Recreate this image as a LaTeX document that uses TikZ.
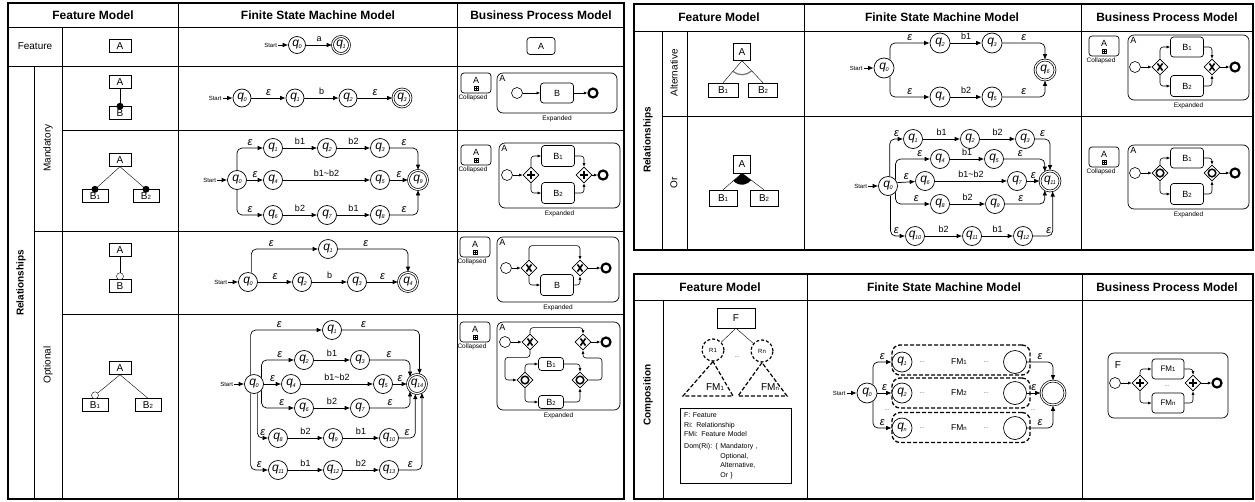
\documentclass[tikz,border=0pt]{standalone}
\usepackage{fontspec}
\setmainfont{Liberation Sans}
\usetikzlibrary{arrows.meta,shapes.geometric,positioning}

\newcommand{\qq}[1]{\textit{q}\kern-0.4pt\raisebox{-1.8pt}{\fontsize{5.5}{6}\selectfont\itshape #1}}
\newcommand{\nn}[1]{{\fontsize{6}{6}\selectfont #1}}
\newcommand{\ep}{ε}
\newcommand{\dt}{{\fontsize{5}{5}\selectfont ...}}

\tikzset{
  tabline/.style={line width=0.9pt},
  tabframe/.style={line width=1.1pt},
  hd/.style={font=\fontsize{12}{14}\selectfont\bfseries},
  sidel/.style={rotate=90, font=\fontsize{10}{12}\selectfont},
  sideb/.style={rotate=90, font=\fontsize{10}{12}\selectfont\bfseries},
  feat/.style={draw, minimum width=22pt, minimum height=13pt, inner sep=0pt, font=\fontsize{10}{11}\selectfont},
  mdot/.style={circle, fill, minimum size=7pt, inner sep=0pt},
  odot/.style={circle, draw, fill=white, minimum size=7pt, inner sep=0pt},
  qst/.style={draw, circle, fill=white, minimum size=19pt, inner sep=0pt, line width=0.7pt, font=\fontsize{12}{12}\selectfont},
  qfin/.style={qst, double, double distance=1.2pt},
  tr/.style={-{Latex[length=5.5pt,width=4.5pt]}, line width=0.7pt, rounded corners=5pt},
  sym/.style={font=\fontsize{9}{9}\selectfont, above=-0.5pt},
  epl/.style={font=\fontsize{11}{11}\selectfont\itshape, above=-1pt},
  startl/.style={font=\fontsize{6}{6}\selectfont, inner sep=1pt},
  task/.style={draw, rounded corners=3pt, minimum width=33pt, minimum height=20pt, inner sep=0pt, line width=0.7pt, font=\fontsize{9}{10}\selectfont},
  subp/.style={draw, rounded corners=6pt, inner sep=0pt, line width=0.7pt},
  lbl/.style={anchor=north west, inner sep=2.5pt, font=\fontsize{9}{10}\selectfont},
  note/.style={font=\fontsize{6.5}{7}\selectfont, inner sep=1pt},
  gw/.style={draw, diamond, fill=white, minimum size=16pt, inner sep=0pt, line width=0.7pt},
  gwand/.style={gw, path picture={\draw[line width=1.8pt] (path picture bounding box.center) +(-4pt,0) -- +(4pt,0) +(0,-4pt) -- +(0,4pt);}},
  gwxor/.style={gw, path picture={\draw[line width=1.6pt] (path picture bounding box.center) +(-2.5pt,-3.5pt) -- +(2.5pt,3.5pt) +(-2.5pt,3.5pt) -- +(2.5pt,-3.5pt);}},
  gwor/.style={gw, path picture={\draw[line width=1.5pt] (path picture bounding box.center) circle (3.8pt);}},
  sev/.style={draw, circle, fill=white, minimum size=11pt, inner sep=0pt, line width=0.6pt},
  eev/.style={draw, circle, minimum size=9pt, inner sep=0pt, line width=2.2pt},
  flow/.style={-{Latex[length=3.5pt,width=3pt]}, line width=0.6pt, rounded corners=3pt},
  plusmark/.style={draw, minimum size=4pt, inner sep=0pt, line width=0.4pt, path picture={\draw[line width=0.4pt] (path picture bounding box.center) +(-2pt,0) -- +(2pt,0) +(0,-2pt) -- +(0,2pt);}},
  relc/.style={draw, circle, dash pattern=on 3pt off 2pt, line width=1.2pt, minimum size=22pt, inner sep=0pt, font=\fontsize{6}{6}\selectfont},
  dsh/.style={dash pattern=on 4pt off 2pt, line width=1.2pt},
  fmbox/.style={draw, dash pattern=on 4pt off 2pt, line width=1.3pt, rounded corners=8pt, minimum width=138pt, minimum height=30pt, inner sep=0pt},
}

% collapsed sub-process: name, centre
\newcommand{\collbox}[2]{%
  \node[task, minimum width=30pt, minimum height=20pt] (#1) at (#2) {};
  \node[font=\fontsize{9}{10}\selectfont, inner sep=0pt] at ([yshift=2.5pt]#1.center) {A};
  \node[plusmark] at ([yshift=-5pt]#1.center) {};
  \node[note, below=0pt] at ([xshift=-3pt]#1.south) {Collapsed};}

\begin{document}
\begin{tikzpicture}[x=1pt, y=-1pt]
\useasboundingbox (0,0) rectangle (1255,501);

%% ---------- feature and relationships ----------
\draw[tabframe] (8,3) rectangle (624,499);
\draw[tabline] (8,27) -- (624,27);
\draw[tabline] (8,66) -- (624,66);
\draw[tabline] (62,130) -- (624,130);
\draw[tabline] (34,231) -- (624,231);
\draw[tabline] (62,314) -- (624,314);
\draw[tabline] (62,27) -- (62,499);
\draw[tabline] (34,66) -- (34,499);
\draw[tabline] (178,3) -- (178,499);
\draw[tabline] (457,3) -- (457,499);

\node[hd] at (93,15) {Feature Model};
\node[hd] at (318,15) {Finite State Machine Model};
\node[hd] at (541,15) {Business Process Model};
\node[font=\fontsize{10}{12}\selectfont] at (35,46) {Feature};
\node[sideb] at (21,283) {Relationships};
\node[sidel] at (48,148) {Mandatory};
\node[sidel] at (48,365) {Optional};

% feature
\node[feat] (fA) at (120,46) {A};
\node[qst, minimum size=17pt] (fq0) at (297,45) {\qq{0}};
\node[qfin, minimum size=17pt] (fq1) at (341,45) {\qq{1}};
\node[startl, left=10pt of fq0] (fst) {Start};
\draw[tr] (fst) -- (fq0);
\draw[tr] (fq0) -- node[sym]{a} (fq1);
\node[task, minimum width=28pt, minimum height=17pt] (fbA) at (541,46) {A};

% mandatory, one child
\node[feat] (maA) at (120,82) {A};
\node[feat] (maB) at (120,113) {B};
\draw (maA) -- (maB);
\node[mdot] at (maB.north) {};

\node[qst, minimum size=18pt] (maq0) at (242,98) {\qq{0}};
\node[qst, minimum size=18pt] (maq1) at (295,98) {\qq{1}};
\node[qst, minimum size=18pt] (maq2) at (348,98) {\qq{2}};
\node[qfin, minimum size=18pt] (maq3) at (402,98) {\qq{3}};
\node[startl, left=10pt of maq0] (mast) {Start};
\draw[tr] (mast) -- (maq0);
\draw[tr] (maq0) -- node[epl]{\ep} (maq1);
\draw[tr] (maq1) -- node[sym]{b} (maq2);
\draw[tr] (maq2) -- node[epl]{\ep} (maq3);

\collbox{macol}{476,83}
\node[subp, minimum width=120pt, minimum height=40pt] (max) at (557,93) {};
\node[lbl] at (max.north west) {A};
\node[sev] (mas) at (517,93) {};
\node[task] (mat) at (557,93) {B};
\node[eev] (mae) at (593,93) {};
\draw[flow] (mas) -- (mat);
\draw[flow] (mat) -- (mae);
\node[note, below=1pt] at (max.south) {Expanded};

% mandatory, two children
\node[feat] (mbA) at (120,160) {A};
\node[feat, minimum width=26pt] (mbB1) at (95,196) {B\nn{1}};
\node[feat, minimum width=26pt] (mbB2) at (146,196) {B\nn{2}};
\draw (mbA.south) -- (mbB1.north);
\draw (mbA.south) -- (mbB2.north);
\node[mdot] at (mbB1.north) {};
\node[mdot] at (mbB2.north) {};

\node[qst] (mbq0) at (237,180) {\qq{0}};
\node[qst] (mbq1) at (273,148) {\qq{1}};
\node[qst] (mbq2) at (327,148) {\qq{2}};
\node[qst] (mbq3) at (380,148) {\qq{3}};
\node[qst] (mbq4) at (273,180) {\qq{4}};
\node[qst] (mbq5) at (380,180) {\qq{5}};
\node[qfin] (mbq9) at (418,180) {\qq{9}};
\node[qst] (mbq6) at (273,215) {\qq{6}};
\node[qst] (mbq7) at (327,215) {\qq{7}};
\node[qst] (mbq8) at (380,215) {\qq{8}};
\node[startl, left=10pt of mbq0] (mbst) {Start};
\draw[tr] (mbst) -- (mbq0);
\draw[tr] (mbq0.north) |- node[epl, pos=0.75]{\ep} (mbq1);
\draw[tr] (mbq0) -- node[epl]{\ep} (mbq4);
\draw[tr] (mbq0.south) |- node[epl, pos=0.75]{\ep} (mbq6);
\draw[tr] (mbq1) -- node[sym]{b1} (mbq2);
\draw[tr] (mbq2) -- node[sym]{b2} (mbq3);
\draw[tr] (mbq4) -- node[sym]{b1\textasciitilde b2} (mbq5);
\draw[tr] (mbq6) -- node[sym]{b2} (mbq7);
\draw[tr] (mbq7) -- node[sym]{b1} (mbq8);
\draw[tr] (mbq3) -| node[epl, pos=0.25]{\ep} (mbq9);
\draw[tr] (mbq5) -- node[epl]{\ep} (mbq9);
\draw[tr] (mbq8) -| node[epl, pos=0.25]{\ep} (mbq9);

\collbox{mbcol}{476,155}
\node[subp, minimum width=121pt, minimum height=65pt] (mbx) at (559.5,175.5) {};
\node[lbl] at (mbx.north west) {A};
\node[sev] (mbs) at (507,175) {};
\node[gwand] (mbg1) at (531,175) {};
\node[task, minimum height=21pt] (mbt1) at (558,156) {B\nn{1}};
\node[task, minimum height=21pt] (mbt2) at (558,193) {B\nn{2}};
\node[gwand] (mbg2) at (584,175) {};
\node[eev] (mbe) at (603,175) {};
\draw[flow] (mbs) -- (mbg1);
\draw[flow] (mbg1.north) |- (mbt1);
\draw[flow] (mbg1.south) |- (mbt2);
\draw[flow] (mbt1) -| (mbg2.north);
\draw[flow] (mbt2) -| (mbg2.south);
\draw[flow] (mbg2) -- (mbe);
\node[note, below=1pt] at (mbx.south) {Expanded};

% optional, one child
\node[feat] (oaA) at (120,250) {A};
\node[feat] (oaB) at (120,286) {B};
\node[odot] (oac) at ([yshift=3pt]oaB.north) {};
\draw (oaA) -- (oac);

\node[qst] (oaq0) at (248,282) {\qq{0}};
\node[qst] (oaq1) at (328,249) {\qq{1}};
\node[qst] (oaq2) at (302,282) {\qq{2}};
\node[qst] (oaq3) at (357,282) {\qq{3}};
\node[qfin] (oaq4) at (408,282) {\qq{4}};
\node[startl, left=10pt of oaq0] (oast) {Start};
\draw[tr] (oast) -- (oaq0);
\draw[tr] (oaq0.70) |- node[epl, pos=0.65]{\ep} (oaq1);
\draw[tr] (oaq1) -| node[epl, pos=0.2]{\ep} (oaq4);
\draw[tr] (oaq0) -- node[epl]{\ep} (oaq2);
\draw[tr] (oaq2) -- node[sym]{b} (oaq3);
\draw[tr] (oaq3) -- node[epl]{\ep} (oaq4);

\collbox{oacol}{475,247}
\node[subp, minimum width=122pt, minimum height=65pt] (oax) at (558,269.5) {};
\node[lbl] at (oax.north west) {A};
\node[sev] (oas) at (506,268) {};
\node[gwxor] (oag1) at (529,268) {};
\node[task, minimum height=21pt] (oat) at (557,285) {B};
\node[gwxor] (oag2) at (580,268) {};
\node[eev] (oae) at (606,268) {};
\draw[flow] (oas) -- (oag1);
\draw[flow] (oag1.north) -- ++(0,-14) -| (oag2.north);
\draw[flow] (oag1.south) |- (oat);
\draw[flow] (oat) -| (oag2.south);
\draw[flow] (oag2) -- (oae);
\node[note, below=1pt] at (oax.south) {Expanded};

% optional, two children
\node[feat] (obA) at (120,368) {A};
\node[feat, minimum width=26pt] (obB1) at (95,405) {B\nn{1}};
\node[feat, minimum width=26pt] (obB2) at (148,405) {B\nn{2}};
\node[odot] (obc1) at ([yshift=3pt]obB1.north) {};
\draw (obA.south) -- (obc1);
\draw (obA.south) -- (obB2.north);

\node[qst] (obq0) at (254,384) {\qq{0}};
\node[qst] (obq1) at (332,330) {\qq{1}};
\node[qst] (obq2) at (304,360) {\qq{2}};
\node[qst] (obq3) at (360,360) {\qq{3}};
\node[qst] (obq4) at (291,384) {\qq{4}};
\node[qst] (obq5) at (383,384) {\qq{5}};
\node[qfin] (obq14) at (417,384) {\qq{14}};
\node[qst] (obq6) at (304,408) {\qq{6}};
\node[qst] (obq7) at (360,408) {\qq{7}};
\node[qst] (obq8) at (278,438) {\qq{8}};
\node[qst] (obq9) at (333,438) {\qq{9}};
\node[qst] (obq10) at (389,438) {\qq{10}};
\node[qst] (obq11) at (278,470) {\qq{11}};
\node[qst] (obq12) at (333,470) {\qq{12}};
\node[qst] (obq13) at (389,470) {\qq{13}};
\node[startl, left=10pt of obq0] (obst) {Start};
\draw[tr] (obst) -- (obq0);
\draw[tr] (obq0.110) |- node[epl, pos=0.7]{\ep} (obq1);
\draw[tr] (obq1) -| node[epl, pos=0.14]{\ep} (obq14.75);
\draw[tr] (obq0.40) |- node[epl, pos=0.78]{\ep} (obq2);
\draw[tr] (obq2) -- node[sym]{b1} (obq3);
\draw[tr] (obq3) -| node[epl, pos=0.24]{\ep} (obq14.135);
\draw[tr] (obq0) -- node[epl]{\ep} (obq4);
\draw[tr] (obq4) -- node[sym]{b1\textasciitilde b2} (obq5);
\draw[tr] (obq5) -- node[epl]{\ep} (obq14);
\draw[tr] (obq0.-40) |- node[epl, pos=0.81]{\ep} (obq6);
\draw[tr] (obq6) -- node[sym]{b2} (obq7);
\draw[tr] (obq7) -| node[epl, pos=0.25]{\ep} (obq14.-135);
\draw[tr] (obq0.-70) |- node[epl, pos=0.75]{\ep} (obq8);
\draw[tr] (obq8) -- node[sym]{b2} (obq9);
\draw[tr] (obq9) -- node[sym]{b1} (obq10);
\draw[tr] (obq10) -| node[epl, pos=0.25]{\ep} (obq14.-100);
\draw[tr] (obq0.-110) |- node[epl, pos=0.75]{\ep} (obq11);
\draw[tr] (obq11) -- node[sym]{b1} (obq12);
\draw[tr] (obq12) -- node[sym]{b2} (obq13);
\draw[tr] (obq13) -| node[epl, pos=0.25]{\ep} (obq14.-60);

\collbox{obcol}{475,332}
\node[subp, minimum width=123pt, minimum height=88pt] (obx) at (558.5,366) {};
\node[lbl] at (obx.north west) {A};
\node[sev] (obs) at (505,342) {};
\node[gwxor] (obg1) at (530,342) {};
\node[gwxor] (obg2) at (583,342) {};
\node[eev] (obe) at (606,342) {};
\node[gwor] (obo1) at (525,380) {};
\node[gwor] (obo2) at (580,380) {};
\node[task, minimum width=25pt, minimum height=13pt] (obt1) at (551,364) {B\nn{1}};
\node[task, minimum width=25pt, minimum height=13pt] (obt2) at (551,402) {B\nn{2}};
\draw[flow] (obs) -- (obg1);
\draw[flow] (obg1.north) -- ++(0,-6) -| (obg2.north);
\draw[flow] (obg1.south) -- ++(0,7) -| (505,380) -- (obo1.west);
\draw[flow] (obo1.north) |- (obt1);
\draw[flow] (obo1.south) |- (obt2);
\draw[flow] (obt1) -| (obo2.north);
\draw[flow] (obt2) -| (obo2.south);
\draw[flow] (obo2.east) -| (602,358) -| (obg2.south);
\draw[flow] (obg2) -- (obe);
\node[note, below=1pt] at (obx.south) {Expanded};

%% ---------- alternative and or ----------
\draw[tabframe] (634,4) rectangle (1253,250);
\draw[tabline] (634,31) -- (1253,31);
\draw[tabline] (662,116) -- (1253,116);
\draw[tabline] (662,31) -- (662,250);
\draw[tabline] (687,31) -- (687,250);
\draw[tabline] (804,4) -- (804,250);
\draw[tabline] (1081,4) -- (1081,250);

\node[hd] at (719,17) {Feature Model};
\node[hd] at (942,17) {Finite State Machine Model};
\node[hd] at (1167,17) {Business Process Model};
\node[sideb] at (648,140) {Relationships};
\node[sidel] at (674,73) {Alternative};
\node[sidel] at (674,183) {Or};

% alternative
\node[feat, minimum width=17pt, minimum height=17pt] (alA) at (742,52) {A};
\node[feat, minimum width=30pt, minimum height=14pt] (alB1) at (723,90) {B\nn{1}};
\node[feat, minimum width=29pt, minimum height=14pt] (alB2) at (763,90) {B\nn{2}};
\draw (alA.south) -- (alB1.north);
\draw (alA.south) -- (alB2.north);
\draw[line width=1.2pt, black!55] (alA.south) ++(229.8:14pt) arc[start angle=229.8, end angle=313, radius=14pt];

\node[qst, minimum size=20pt] (alq0) at (884,68) {\qq{0}};
\node[qst, minimum size=20pt] (alq2) at (940,43) {\qq{2}};
\node[qst, minimum size=20pt] (alq3) at (992,43) {\qq{3}};
\node[qst, minimum size=20pt] (alq4) at (940,97) {\qq{4}};
\node[qst, minimum size=20pt] (alq5) at (992,97) {\qq{5}};
\node[qfin, minimum size=20pt] (alq6) at (1045,70) {\qq{6}};
\node[startl, left=10pt of alq0] (alst) {Start};
\draw[tr] (alst) -- (alq0);
\draw[tr] (alq0.55) |- node[epl, pos=0.75]{\ep} (alq2);
\draw[tr] (alq0.-55) |- node[epl, pos=0.75]{\ep} (alq4);
\draw[tr] (alq2) -- node[sym]{b1} (alq3);
\draw[tr] (alq4) -- node[sym]{b2} (alq5);
\draw[tr] (alq3) -| node[epl, pos=0.25]{\ep} (alq6);
\draw[tr] (alq5) -| node[epl, pos=0.25]{\ep} (alq6);

\collbox{alcol}{1104,46}
\node[subp, minimum width=121pt, minimum height=65pt] (alx) at (1188.5,67.5) {};
\node[lbl] at (alx.north west) {A};
\node[sev] (als) at (1135,67) {};
\node[gwxor] (alg1) at (1160,67) {};
\node[task] (alt1) at (1187,47) {B\nn{1}};
\node[task, minimum height=21pt] (alt2) at (1187,86) {B\nn{2}};
\node[gwxor] (alg2) at (1212,67) {};
\node[eev] (ale) at (1235,67) {};
\draw[flow] (als) -- (alg1);
\draw[flow] (alg1.north) |- (alt1);
\draw[flow] (alg1.south) |- (alt2);
\draw[flow] (alt1) -| (alg2.north);
\draw[flow] (alt2) -| (alg2.south);
\draw[flow] (alg2) -- (ale);
\node[note, below=1pt] at (alx.south) {Expanded};

% or
\node[feat, minimum width=17pt, minimum height=18pt] (orA) at (742,164) {A};
\node[feat, minimum width=28pt, minimum height=16pt] (orB1) at (723,198) {B\nn{1}};
\node[feat, minimum width=28pt, minimum height=16pt] (orB2) at (764,198) {B\nn{2}};
\draw (orA.south) -- (orB1.north);
\draw (orA.south) -- (orB2.north);
\fill (orA.south) -- ++(221.8:11.5pt) arc[start angle=221.8, end angle=322.3, radius=11.5pt] -- cycle;

\node[qst] (orq0) at (888,186) {\qq{0}};
\node[qst] (orq1) at (913,139) {\qq{1}};
\node[qst] (orq2) at (970,139) {\qq{2}};
\node[qst] (orq3) at (1025,139) {\qq{3}};
\node[qst] (orq4) at (940,159) {\qq{4}};
\node[qst] (orq5) at (994,159) {\qq{5}};
\node[qst] (orq6) at (925,181) {\qq{6}};
\node[qst] (orq7) at (1017,181) {\qq{7}};
\node[qfin, minimum size=20pt] (orfin) at (1050,181) {\qq{11}};
\node[qst] (orq8) at (940,204) {\qq{8}};
\node[qst] (orq9) at (995,204) {\qq{9}};
\node[qst] (orq10) at (915,236) {\qq{10}};
\node[qst] (orq11) at (972,236) {\qq{11}};
\node[qst] (orq12) at (1023,236) {\qq{12}};
\node[startl, left=10pt of orq0] (orst) {Start};
\draw[tr] (orst) -- (orq0);
\draw[tr] (orq0.80) |- node[epl, pos=0.75]{\ep} (orq1);
\draw[tr] (orq0.40) |- node[epl, pos=0.85]{\ep} (orq4);
\draw[tr] (orq0.20) -- node[epl]{\ep} (orq6);
\draw[tr] (orq0.-40) |- node[epl, pos=0.8]{\ep} (orq8);
\draw[tr] (orq0.-75) |- node[epl, pos=0.7]{\ep} (orq10);
\draw[tr] (orq1) -- node[sym]{b1} (orq2);
\draw[tr] (orq2) -- node[sym]{b2} (orq3);
\draw[tr] (orq4) -- node[sym]{b1} (orq5);
\draw[tr] (orq6) -- node[sym]{b1\textasciitilde b2} (orq7);
\draw[tr] (orq8) -- node[sym]{b2} (orq9);
\draw[tr] (orq10) -- node[sym]{b2} (orq11);
\draw[tr] (orq11) -- node[sym]{b1} (orq12);
\draw[tr] (orq3) -| node[epl, pos=0.25]{\ep} (orfin.north);
\draw[tr] (orq5) -| node[epl, pos=0.2]{\ep} (orfin.120);
\draw[tr] (orq7) -- node[epl]{\ep} (orfin);
\draw[tr] (orq9) -| node[epl, pos=0.2]{\ep} (orfin.-120);
\draw[tr] (orq12) -| node[epl, pos=0.4]{\ep} (orfin.-75);

\collbox{orcol}{1104,157}
\node[subp, minimum width=121pt, minimum height=64pt] (orx) at (1188.5,177) {};
\node[lbl] at (orx.north west) {A};
\node[sev] (ors) at (1135,173) {};
\node[gwor] (org1) at (1160,173) {};
\node[task] (ort1) at (1187,158) {B\nn{1}};
\node[task, minimum height=21pt] (ort2) at (1187,194) {B\nn{2}};
\node[gwor] (org2) at (1212,173) {};
\node[eev] (ore) at (1235,173) {};
\draw[flow] (ors) -- (org1);
\draw[flow] (org1.north) |- (ort1);
\draw[flow] (org1.south) |- (ort2);
\draw[flow] (ort1) -| (org2.north);
\draw[flow] (ort2) -| (org2.south);
\draw[flow] (org2) -- (ore);
\node[note, below=1pt] at (orx.south) {Expanded};

%% ---------- composition ----------
\draw[tabframe] (634,274) rectangle (1253,499);
\draw[tabline] (634,300) -- (1253,300);
\draw[tabline] (663,300) -- (663,499);
\draw[tabline] (807,274) -- (807,499);
\draw[tabline] (1082,274) -- (1082,499);

\node[hd] at (720,287) {Feature Model};
\node[hd] at (944,287) {Finite State Machine Model};
\node[hd] at (1167,287) {Business Process Model};
\node[sideb] at (648,395) {Composition};

\node[feat, minimum width=38pt, minimum height=20pt] (coF) at (736,318) {F};
\node[relc] (coR1) at (713,350) {R\nn{1}};
\node[relc] (coRn) at (762,351) {R\nn{n}};
\draw (coF.south) -- (coR1);
\draw (coF.south) -- (coRn);
\node[inner sep=0pt] at (737,357) {\dt};
\draw[dsh] (coR1.south) -- (683,396) -- (733,396) -- cycle;
\draw[dsh] (coRn.south) -- (738,396) -- (787,396) -- cycle;
\node[font=\fontsize{10}{11}\selectfont] at (715,387) {FM\nn{1}};
\node[font=\fontsize{10}{11}\selectfont] at (770,387) {FM\nn{n}};
\node[draw, anchor=north west, align=left, text width=103pt, minimum height=75pt,
      inner sep=4pt, font=\fontsize{7}{9.5}\selectfont] (coleg) at (680,408) {%
  F: Feature\\
  Ri: Relationship\\
  FMi: Feature Model\\[2.5pt]
  Dom(Ri): \{ Mandatory ,\\
  \phantom{Dom(Ri): \{ }Optional,\\
  \phantom{Dom(Ri): \{ }Alternative,\\
  \phantom{Dom(Ri): \{ }Or \}};

\node[fmbox] (cob1) at (961,360) {};
\node[fmbox] (cob2) at (961,393) {};
\node[fmbox] (cob3) at (961,427.5) {};
\node[qst, minimum size=20pt] (coq0) at (867,393) {\qq{0}};
\node[qst, minimum size=20pt] (coq1) at (902,362) {\qq{1}};
\node[qst, minimum size=20pt] (coq2) at (902,393) {\qq{2}};
\node[qst, minimum size=20pt] (coqn) at (902,428) {\qq{n}};
\node[qst, minimum size=23pt] (coc1) at (1015,362) {};
\node[qst, minimum size=23pt] (coc2) at (1015,393) {};
\node[qst, minimum size=23pt] (coc3) at (1015,428) {};
\node[qfin, minimum size=24pt] (cofin) at (1053,393) {};
\foreach \yy/\ii in {362/1, 393/2, 428/n} {
  \node[inner sep=0pt] at (922,\yy) {\dt};
  \node[font=\fontsize{8.5}{9}\selectfont] at (959,\yy) {FM\nn{\ii}};
  \node[inner sep=0pt] at (986,\yy) {\dt};
}
\node[inner sep=0pt] at (887,410) {\dt};
\node[inner sep=0pt] at (1033,410) {\dt};
\node[startl, left=10pt of coq0] (cost) {Start};
\draw[tr] (cost) -- (coq0);
\draw[tr] (coq0.55) |- node[epl, pos=0.75]{\ep} (coq1);
\draw[tr] (coq0) -- node[epl]{\ep} (coq2);
\draw[tr] (coq0.-55) |- node[epl, pos=0.75]{\ep} (coqn);
\draw[tr] (coc1) -| node[epl, pos=0.25]{\ep} (cofin);
\draw[tr] (coc2) -- node[epl]{\ep} (cofin);
\draw[tr] (coc3) -| node[epl, pos=0.25]{\ep} (cofin);

\node[subp, minimum width=120pt, minimum height=65pt] (cox) at (1168,385.5) {};
\node[font=\fontsize{10}{11}\selectfont] at (1118,365) {F};
\node[sev] (cos) at (1115,383) {};
\node[gwand] (cog1) at (1140,383) {};
\node[task, minimum width=32pt, font=\fontsize{8}{9}\selectfont] (cot1) at (1168,369) {FM\nn{1}};
\node[task, minimum width=32pt, font=\fontsize{8}{9}\selectfont] (cot2) at (1168,403) {FM\nn{n}};
\node[inner sep=0pt] at (1167,386) {\dt};
\node[gwand] (cog2) at (1193,383) {};
\node[eev] (coe) at (1217,383) {};
\draw[flow] (cos) -- (cog1);
\draw[flow] (cog1.north) |- (cot1);
\draw[flow] (cog1.south) |- (cot2);
\draw[flow] (cot1) -| (cog2.north);
\draw[flow] (cot2) -| (cog2.south);
\draw[flow] (cog2) -- (coe);
\end{tikzpicture}
\end{document}
